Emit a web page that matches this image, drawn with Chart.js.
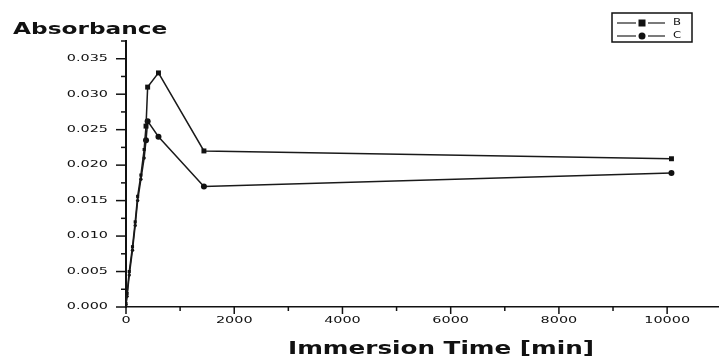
<!DOCTYPE html>
<html>
<head>
<meta charset="utf-8">
<script src="https://cdn.jsdelivr.net/npm/chart.js@4.4.1/dist/chart.umd.min.js"></script>
<style>
  html, body { margin: 0; padding: 0; background: #fff; }
  #wrap { width: 722px; height: 358px; position: relative; }
</style>
</head>
<body>
<div id="wrap"><canvas id="absChart"></canvas></div>
<script>
// immersion time (min) and absorbance
const times = [0, 20, 60, 120, 170, 215, 275, 335, 370, 400, 600, 1440, 10080];
const seriesB = [0.0005, 0.0019, 0.005, 0.0085, 0.012, 0.0156, 0.0186, 0.0222, 0.0255, 0.031, 0.033, 0.022, 0.0209];
const seriesC = [0.0003, 0.0015, 0.0045, 0.008, 0.0115, 0.015, 0.018, 0.021, 0.0235, 0.0262, 0.024, 0.017, 0.0189];
const labels = ['B', 'C'];
const xTicks = [0, 2000, 4000, 6000, 8000, 10000];
const yTicks = ['0.000', '0.005', '0.010', '0.015', '0.020', '0.025', '0.030', '0.035'];

const toPoints = (vals) => times.map((t, i) => ({ x: t, y: vals[i] }));
// markers only show clearly on the later points
const radii = times.map(t => t >= 370 ? 3.5 : 2.2);

// draw a string stretched horizontally (the original uses a very wide font)
function wideText(ctx, text, x, y, font, stretch, align) {
  ctx.save();
  ctx.font = font;
  const w = ctx.measureText(text).width * stretch;
  let left = x;
  if (align === 'center') left = x - w / 2;
  if (align === 'right') left = x - w;
  ctx.translate(left, y);
  ctx.scale(stretch, 1);
  ctx.textAlign = 'left';
  ctx.textBaseline = 'middle';
  ctx.fillStyle = '#111';
  ctx.fillText(text, 0, 0);
  ctx.restore();
}

const axesDecor = {
  id: 'axesDecor',
  afterDraw(chart) {
    const ctx = chart.ctx;
    const xs = chart.scales.x;
    const ys = chart.scales.y;
    const x0 = xs.left, y0 = ys.bottom;
    ctx.save();
    ctx.strokeStyle = '#111';
    ctx.lineWidth = 1.5;
    // x ticks (major every 2000, minor every 1000)
    for (let v = 0; v <= xs.max; v += 1000) {
      const px = xs.getPixelForValue(v);
      const len = v % 2000 === 0 ? 7 : 4;
      ctx.beginPath(); ctx.moveTo(px, y0); ctx.lineTo(px, y0 + len); ctx.stroke();
    }
    // y ticks (major every 0.005, minor every 0.0025)
    for (let k = 0; k <= 15; k++) {
      const v = k * 0.0025;
      const py = ys.getPixelForValue(v);
      const len = k % 2 === 0 ? 10 : 5;
      ctx.beginPath(); ctx.moveTo(x0, py); ctx.lineTo(x0 - len, py); ctx.stroke();
    }
    ctx.restore();

    const tickFont = '9px "DejaVu Sans"';
    xTicks.forEach(v => wideText(ctx, String(v), xs.getPixelForValue(v), 321, tickFont, 1.6, 'center'));
    yTicks.forEach(s => wideText(ctx, s, 108, ys.getPixelForValue(parseFloat(s)), tickFont, 1.6, 'right'));

    wideText(ctx, 'Absorbance', 13, 30, 'bold 15px "DejaVu Sans"', 1.55, 'left');
    wideText(ctx, 'Immersion Time [min]', 441, 350, 'bold 17px "DejaVu Sans"', 1.45, 'center');

    // legend box
    ctx.save();
    ctx.strokeStyle = '#111';
    ctx.lineWidth = 1.5;
    ctx.strokeRect(612, 13, 80, 29);
    ctx.lineWidth = 1.2;
    ctx.strokeStyle = '#222';
    [23, 36].forEach((yy, i) => {
      ctx.beginPath(); ctx.moveTo(617, yy); ctx.lineTo(636, yy); ctx.stroke();
      ctx.beginPath(); ctx.moveTo(648, yy); ctx.lineTo(665, yy); ctx.stroke();
      ctx.fillStyle = '#111';
      if (i === 0) ctx.fillRect(638.5, yy - 3.5, 7, 7);
      else { ctx.beginPath(); ctx.arc(642, yy, 3.5, 0, Math.PI * 2); ctx.fill(); }
      wideText(ctx, labels[i], 673, yy, '9px "DejaVu Sans"', 1.3, 'left');
    });
    ctx.restore();
  }
};

new Chart(document.getElementById('absChart'), {
  type: 'line',
  data: {
    datasets: [
      {
        label: labels[0],
        data: toPoints(seriesB),
        borderColor: '#1a1a1a',
        backgroundColor: '#111',
        borderWidth: 1.5,
        pointStyle: 'rect',
        pointRadius: radii,
        pointBorderWidth: 0,
        tension: 0
      },
      {
        label: labels[1],
        data: toPoints(seriesC),
        borderColor: '#1a1a1a',
        backgroundColor: '#111',
        borderWidth: 1.5,
        pointStyle: 'circle',
        pointRadius: radii.map(r => r - 0.5),
        pointBorderWidth: 0,
        tension: 0
      }
    ]
  },
  options: {
    responsive: true,
    maintainAspectRatio: false,
    animation: false,
    layout: { padding: { left: 126, top: 41, right: 0, bottom: 51 } },
    plugins: { legend: { display: false }, tooltip: { enabled: false } },
    scales: {
      x: {
        type: 'linear',
        min: 0,
        max: 10940,
        grid: { display: false },
        ticks: { display: false },
        border: { display: true, color: '#111', width: 1.5 },
        afterFit: (s) => { s.height = 0; }
      },
      y: {
        min: 0,
        max: 0.0375,
        grid: { display: false },
        ticks: { display: false },
        border: { display: true, color: '#111', width: 2 },
        afterFit: (s) => { s.width = 0; }
      }
    }
  },
  plugins: [axesDecor]
});
</script>
</body>
</html>
